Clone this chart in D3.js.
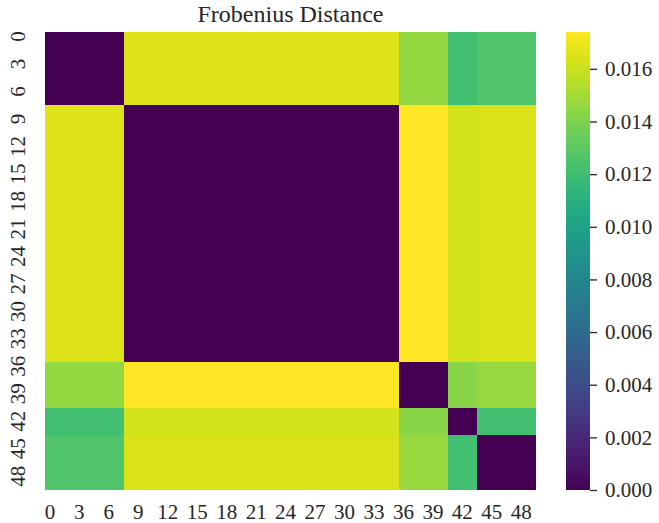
<!DOCTYPE html>
<html>
<head>
<meta charset="utf-8">
<script src="https://cdn.jsdelivr.net/npm/d3@7"></script>
<style>
  html, body { margin: 0; padding: 0; background: #fff; }
  svg { display: block; }
</style>
</head>
<body>
<svg id="chart" width="659" height="523" font-family="Liberation Serif"></svg>
<script>
// Matrix size and block layout (consecutive index groups)
const matrixSize = 50;
const groupSizes = [8, 28, 5, 3, 6];

// Pairwise Frobenius distance between groups (symmetric, zero on the diagonal)
const groupDistances = [
  [0.0000, 0.0165, 0.0146, 0.0121, 0.0126],
  [0.0165, 0.0000, 0.0174, 0.0162, 0.0164],
  [0.0146, 0.0174, 0.0000, 0.0143, 0.0147],
  [0.0121, 0.0162, 0.0143, 0.0000, 0.0121],
  [0.0126, 0.0164, 0.0147, 0.0121, 0.0000]
];

const xTickLabels = ["0","3","6","9","12","15","18","21","24","27","30","33","36","39","42","45","48"];
const yTickLabels = ["0","3","6","9","12","15","18","21","24","27","30","33","36","39","42","45","48"];
const colorbarTicks = [0.000, 0.002, 0.004, 0.006, 0.008, 0.010, 0.012, 0.014, 0.016];
const colorMax = 0.0174;
const titleText = "Frobenius Distance";

const FONT = "Liberation Serif";
const INK = "#262626";

// Expand the group table into one cell per index pair
const groupOf = [];
groupSizes.forEach((n, g) => { for (let k = 0; k < n; k++) groupOf.push(g); });
const cells = [];
for (let r = 0; r < matrixSize; r++) {
  for (let c = 0; c < matrixSize; c++) {
    cells.push({ row: r, col: c, value: groupDistances[groupOf[r]][groupOf[c]] });
  }
}

const svg = d3.select("#chart");
const plot = { left: 45, right: 536, top: 32, bottom: 490 };
const indices = d3.range(matrixSize);

const x = d3.scaleBand().domain(indices).range([plot.left, plot.right]).padding(0);
const y = d3.scaleBand().domain(indices).range([plot.top, plot.bottom]).padding(0);
const color = d3.scaleSequential(d3.interpolateViridis).domain([0, colorMax]);

// Heatmap cells
svg.append("g")
  .selectAll("rect")
  .data(cells)
  .join("rect")
  .attr("x", d => x(d.col))
  .attr("y", d => y(d.row))
  .attr("width", x.bandwidth() + 0.4)
  .attr("height", y.bandwidth() + 0.4)
  .attr("fill", d => color(d.value))
  .attr("shape-rendering", "crispEdges");

function styleLabels(sel) {
  sel.attr("font-family", FONT)
    .attr("font-size", 21)
    .attr("fill", INK);
}

// Bottom axis: labels only
const xAxis = d3.axisBottom(x)
  .tickValues(xTickLabels.map(Number))
  .tickFormat(d => String(d))
  .tickSize(0)
  .tickPadding(0);
const gx = svg.append("g").attr("transform", `translate(0,${plot.bottom})`).call(xAxis)
  .attr("font-family", FONT).attr("font-size", 21);
gx.select(".domain").remove();
gx.selectAll(".tick text").attr("y", 28.5).attr("dy", 0).call(styleLabels);

// Left axis: labels rotated to read upward
const yAxis = d3.axisLeft(y)
  .tickValues(yTickLabels.map(Number))
  .tickFormat(d => String(d))
  .tickSize(0)
  .tickPadding(0);
const gy = svg.append("g").attr("transform", `translate(${plot.left},0)`).call(yAxis)
  .attr("font-family", FONT).attr("font-size", 21);
gy.select(".domain").remove();
gy.selectAll(".tick text")
  .attr("x", 0)
  .attr("dy", 0)
  .attr("text-anchor", "middle")
  .attr("transform", "translate(-20,0) rotate(-90)")
  .call(styleLabels);

// Title
svg.append("text")
  .attr("x", (plot.left + plot.right) / 2)
  .attr("y", 22)
  .attr("text-anchor", "middle")
  .attr("font-family", FONT)
  .attr("font-size", 24)
  .attr("fill", INK)
  .text(titleText);

// Colour bar
const bar = { left: 566, width: 24 };
const defs = svg.append("defs");
const grad = defs.append("linearGradient")
  .attr("id", "viridisBar")
  .attr("x1", "0%").attr("y1", "100%")
  .attr("x2", "0%").attr("y2", "0%");
d3.range(0, 1.0001, 0.02).forEach(t => {
  grad.append("stop").attr("offset", `${t * 100}%`).attr("stop-color", d3.interpolateViridis(t));
});
svg.append("rect")
  .attr("x", bar.left)
  .attr("y", plot.top)
  .attr("width", bar.width)
  .attr("height", plot.bottom - plot.top)
  .attr("fill", "url(#viridisBar)");

const cbScale = d3.scaleLinear().domain([0, colorMax]).range([plot.bottom, plot.top]);
const cbAxis = d3.axisRight(cbScale)
  .tickValues(colorbarTicks)
  .tickFormat(d3.format(".3f"))
  .tickSize(7)
  .tickPadding(8);
const gc = svg.append("g").attr("transform", `translate(${bar.left + bar.width},0)`).call(cbAxis)
  .attr("font-family", FONT).attr("font-size", 21);
gc.select(".domain").remove();
gc.selectAll(".tick line").attr("stroke", INK).attr("stroke-width", 1.3);
gc.selectAll(".tick text").call(styleLabels);
</script>
</body>
</html>
